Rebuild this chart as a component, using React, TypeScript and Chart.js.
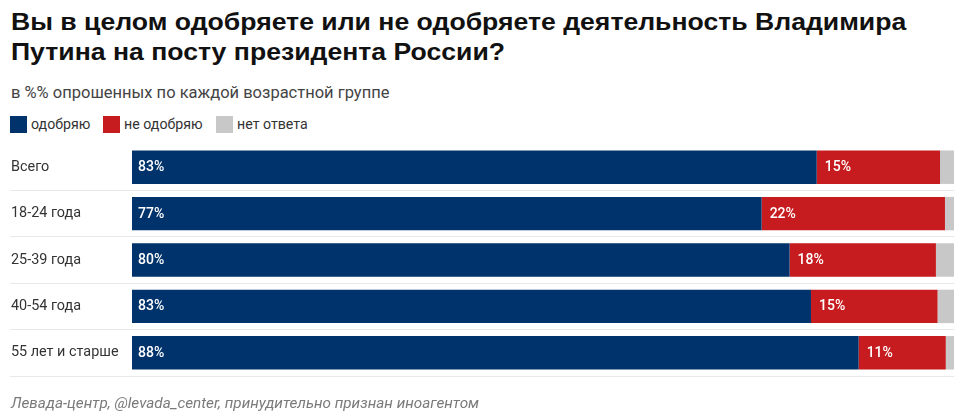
import React, { useEffect, useRef } from "react";
import { Chart, registerables } from "chart.js";

Chart.register(...registerables);

const categories = ["Всего", "18-24 года", "25-39 года", "40-54 года", "55 лет и старше"];
const approve = [83.3, 76.6, 80.0, 82.6, 88.4];
const disapprove = [15.0, 22.3, 17.8, 15.4, 10.6];
const noAnswer = [1.7, 1.1, 2.2, 2.0, 1.0];
const seriesNames = ["одобряю", "не одобряю", "нет ответа"];
const seriesColors = ["#00326b", "#c71c1f", "#c8c8c8"];
const shownLabels = [
  ["83%", "77%", "80%", "83%", "88%"],
  ["15%", "22%", "18%", "15%", "11%"],
];

const titleLines = [
  "Вы в целом одобряете или не одобряете деятельность Владимира",
  "Путина на посту президента России?",
];
const subtitle = "в %% опрошенных по каждой возрастной группе";
const footer = "Левада-центр, @levada_center, принудительно признан иноагентом";

const valueLabelPlugin = {
  id: "valueLabels",
  afterDatasetsDraw(chart: any) {
    const ctx = chart.ctx;
    ctx.save();
    ctx.fillStyle = "#ffffff";
    ctx.font = "500 14px Roboto, 'Noto Sans', sans-serif";
    ctx.textAlign = "left";
    ctx.textBaseline = "middle";
    for (let d = 0; d < 2; d++) {
      const meta = chart.getDatasetMeta(d);
      meta.data.forEach((el: any, i: number) => {
        const left = Math.min(el.base, el.x);
        ctx.fillText(shownLabels[d][i], left + (d === 0 ? 6 : 8), el.y + 0.5);
      });
    }
    ctx.restore();
  },
};

export default function App() {
  const canvasRef = useRef<HTMLCanvasElement | null>(null);

  useEffect(() => {
    if (!canvasRef.current) return;
    const n = categories.length;
    const chart = new Chart(canvasRef.current, {
      type: "bar",
      data: {
        labels: categories,
        datasets: [
          { label: seriesNames[0], data: approve, backgroundColor: seriesColors[0] },
          { label: seriesNames[1], data: disapprove, backgroundColor: seriesColors[1] },
          { label: seriesNames[2], data: noAnswer, backgroundColor: seriesColors[2] },
        ],
      },
      options: {
        indexAxis: "y",
        animation: false,
        responsive: false,
        maintainAspectRatio: false,
        events: [],
        layout: { padding: { left: 11, right: 19, top: 144, bottom: 41 } },
        datasets: { bar: { barPercentage: 0.72, categoryPercentage: 1 } },
        plugins: {
          legend: { display: false },
          title: { display: false },
          tooltip: { enabled: false },
        },
        scales: {
          x: { stacked: true, min: 0, max: 100, display: false },
          y: {
            stacked: true,
            afterFit(scale: any) {
              scale.width = 121;
            },
            border: { display: false },
            grid: {
              offset: true,
              drawTicks: true,
              tickLength: 122,
              lineWidth: 1,
              color: (c: any) => (c.index === 0 || c.index === n ? "rgba(0,0,0,0)" : "#e8e8e8"),
            },
            ticks: {
              crossAlign: "far",
              padding: 0,
              color: "#333333",
              font: { family: "Roboto, 'Noto Sans', sans-serif", size: 14.4 },
            },
          },
        },
      },
      plugins: [valueLabelPlugin],
    });
    return () => chart.destroy();
  }, []);

  const legendItem = (i: number, left: number) => (
    <div key={i} style={{ position: "absolute", left, top: 116, display: "flex", alignItems: "center", height: 17 }}>
      <div style={{ width: 17, height: 17, background: seriesColors[i] }} />
      <span style={{ marginLeft: 4, fontSize: 14.2, color: "#333", lineHeight: "17px" }}>{seriesNames[i]}</span>
    </div>
  );

  return (
    <div
      style={{
        position: "fixed",
        left: 0,
        top: 0,
        width: 973,
        height: 417,
        background: "#ffffff",
        fontFamily: "Roboto, 'Noto Sans', sans-serif",
        overflow: "hidden",
      }}
    >
      {titleLines.map((line, i) => (
        <div
          key={i}
          style={{
            position: "absolute",
            left: 11,
            top: 7 + i * 30,
            whiteSpace: "nowrap",
            fontFamily: "'Liberation Sans', Arial, sans-serif",
            fontWeight: "bold",
            fontSize: 24.5,
            lineHeight: "29px",
            color: "#111",
            transform: "scaleX(1.086)",
            transformOrigin: "left top",
          }}
        >
          {line}
        </div>
      ))}
      <div style={{ position: "absolute", left: 11, top: 83, fontSize: 16.5, color: "#444", lineHeight: "20px", whiteSpace: "nowrap" }}>
        {subtitle}
      </div>
      {legendItem(0, 10)}
      {legendItem(1, 103)}
      {legendItem(2, 216)}
      <canvas ref={canvasRef} width={973} height={417} style={{ position: "absolute", left: 0, top: 0, width: 973, height: 417 }} />
      <div
        style={{
          position: "absolute",
          left: 11,
          top: 394,
          fontSize: 15.3,
          fontStyle: "italic",
          color: "#7a7a7a",
          lineHeight: "18px",
          whiteSpace: "nowrap",
        }}
      >
        {footer}
      </div>
    </div>
  );
}
